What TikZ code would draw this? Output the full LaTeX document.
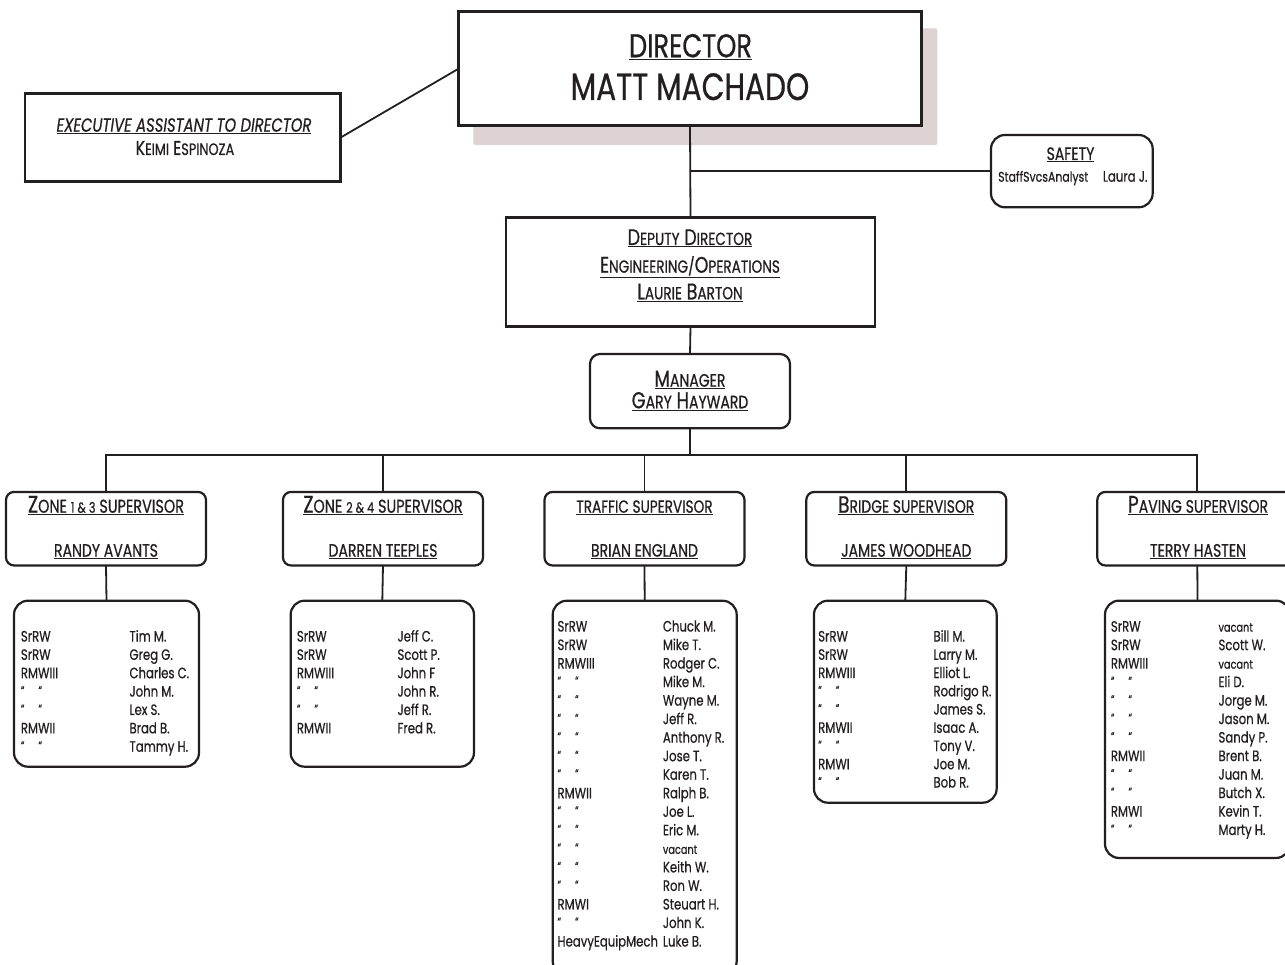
\documentclass[tikz,border=0pt]{standalone}
\usepackage{fontspec}
\setmainfont{Poppins}[FakeStretch=0.78,FakeBold=0.6]
\newcommand\fs[1]{\fontsize{#1}{#1}\selectfont}
\newcommand\sk[2]{{\fontsize{#1}{#1}\selectfont #2}}
\newcommand\dit{\raisebox{2pt}{\fs{12}“\hspace{14pt}“}}
\newcommand\vac{{\fs{12.5}vacant}}
\definecolor{ink}{HTML}{231F20}
\definecolor{shade}{HTML}{DDD3D3}
\begin{document}
\begin{tikzpicture}[x=1pt,y=-1pt,
  box/.style={draw=ink, line width=2.2pt, fill=white, inner sep=0pt, outer sep=0pt},
  rbox/.style={box, rounded corners=10pt},
  lbox/.style={box, rounded corners=14pt},
  txt/.style={anchor=base, inner sep=0pt, text=ink},
  item/.style={anchor=base west, inner sep=0pt, text=ink, font=\fs{15}},
  wire/.style={draw=ink, line width=1.8pt}]
\useasboundingbox (0,0) rectangle (1285,965);
\clip (0,0) rectangle (1285,965);
\fill[white] (0,0) rectangle (1285,965);

% ---- top level boxes
\node[fill=shade, inner sep=0pt, rounded corners=2pt, minimum width=464pt, minimum height=116.7pt] (dirsh) at (705.3,86.7) {};
\node[box, line width=3pt, minimum width=463.4pt, minimum height=114.3pt] (dir) at (690,68.85) {};
\node[box, line width=2.6pt, minimum width=315.7pt, minimum height=88.4pt] (ea) at (182.85,137.5) {};
\node[lbox, minimum width=161.7pt, minimum height=72.3pt] (saf) at (1071.85,171.15) {};
\node[box, line width=2.6pt, minimum width=369pt, minimum height=109.4pt] (dep) at (690.5,272) {};
\node[rbox, minimum width=200pt, minimum height=74.3pt] (mgr) at (690,391.15) {};

% ---- supervisor boxes
\foreach \k/\cx in {1/106, 2/383, 3/644.5, 4/906.3, 5/1197.3}{
  \node[box, rounded corners=8pt, minimum width=200pt, minimum height=73.5pt] (s\k) at (\cx,528.7) {};
}
% ---- staff boxes
\node[lbox, minimum width=185pt, minimum height=166pt] (l1) at (106.5,683.7) {};
\node[lbox, minimum width=183.3pt, minimum height=166pt] (l2) at (382.3,683.7) {};
\node[lbox, minimum width=184pt, minimum height=374.3pt] (l3) at (644.7,787.9) {};
\node[lbox, minimum width=182.7pt, minimum height=202pt] (l4) at (905.3,701.7) {};
\node[lbox, minimum width=185pt, minimum height=257.3pt] (l5) at (1197.5,729.3) {};

% ---- connectors
\coordinate (bus) at (690,455);
\draw[wire] (ea.east) -- (dir.west);
\draw[wire] (dir.south) -- (dep.north);
\draw[wire] (saf.west) -- (saf.west -| dir.south);
\draw[wire] (dep.south) -- (mgr.north);
\draw[wire] (mgr.south) -- (bus);
\draw[wire] (s1.north) -- (s1.north |- bus) -- (s5.north |- bus) -- (s5.north);
\foreach \k in {2,3,4}{\draw[wire] (s\k.north) -- (s\k.north |- bus);}
\foreach \k in {1,...,5}{\draw[wire] (s\k.south) -- (l\k.north);}

% ---- texts
\node[txt, font=\fs{33}] (dirt) at (690.5,57.3) {\underline{DIRECTOR}};
\node[txt, font=\fs{38}] (dirn) at (690,100) {MATT MACHADO};
\node[txt, font=\itshape\fs{19}] (eat) at (184,131.7) {\underline{EXECUTIVE ASSISTANT TO DIRECTOR}};
\node[txt, font=\fs{20}] (ean) at (185,155) {K\sk{16.5}{EIMI} E\sk{16.5}{SPINOZA}};
\node[txt, font=\fs{18}] (saft) at (1070.5,160) {\underline{SAFETY}};
\node[item, font=\fs{14}] (safr) at (998,181.7) {StaffSvcsAnalyst};
\node[item] (safn) at (1102.7,181.7) {Laura J.};
\node[txt, font=\fs{22.5}] (dep1) at (690,245) {\underline{D\sk{17.5}{EPUTY} D\sk{17.5}{IRECTOR}}};
\node[txt, font=\fs{22.5}] (dep2) at (690,272.7) {\underline{E\sk{17.5}{NGINEERING/}O\sk{17.5}{PERATIONS}}};
\node[txt, font=\fs{22.5}] (dep3) at (690,299.3) {\underline{L\sk{17.5}{AURIE} B\sk{17.5}{ARTON}}};
\node[txt, font=\fs{23}] (mgr1) at (690,386.7) {\underline{M\sk{18}{ANAGER}}};
\node[txt, font=\fs{23}] (mgr2) at (690,408.3) {\underline{G\sk{18}{ARY} H\sk{18}{AYWARD}}};

\node[txt, font=\fs{24}] (s1t) at (106,512.7) {\underline{Z\sk{18.5}{ONE }\sk{14.5}{1 \& 3}\sk{18.5}{ SUPERVISOR}}};
\node[txt, font=\fs{18}] (s1n) at (106,556.7) {\underline{RANDY AVANTS}};
\node[txt, font=\fs{24}] (s2t) at (383,512.7) {\underline{Z\sk{18.5}{ONE }\sk{14.5}{2 \& 4}\sk{18.5}{ SUPERVISOR}}};
\node[txt, font=\fs{18}] (s2n) at (383,556.7) {\underline{DARREN TEEPLES}};
\node[txt, font=\fs{17.5}] (s3t) at (644.5,512.7) {\underline{TRAFFIC SUPERVISOR}};
\node[txt, font=\fs{18}] (s3n) at (644.5,556.7) {\underline{BRIAN ENGLAND}};
\node[txt, font=\fs{23.5}] (s4t) at (906.3,512.7) {\underline{B\sk{17.8}{RIDGE SUPERVISOR}}};
\node[txt, font=\fs{18}] (s4n) at (906.3,556.7) {\underline{JAMES WOODHEAD}};
\node[txt, font=\fs{24}] (s5t) at (1198,512.7) {\underline{P\sk{18}{AVING SUPERVISOR}}};
\node[txt, font=\fs{18}] (s5n) at (1198,556.7) {\underline{TERRY HASTEN}};

% ---- staff lists
\foreach \r/\n [count=\i from 0] in {SrRW/Tim M., SrRW/Greg G., RMWIII/Charles C., \dit/John M., \dit/Lex S., RMWII/Brad B., \dit/Tammy H.}{
  \node[item] (a\i) at (20.7,{641.5+\i*18.37}) {\r};
  \node[item] (an\i) at (129.3,{641.5+\i*18.37}) {\n};
}
\foreach \r/\n [count=\i from 0] in {SrRW/Jeff C., SrRW/Scott P., RMWIII/John F, \dit/John R., \dit/Jeff R., RMWII/Fred R.}{
  \node[item] (b\i) at (296.7,{641.5+\i*18.37}) {\r};
  \node[item] (bn\i) at (397.3,{641.5+\i*18.37}) {\n};
}
\foreach \r/\n [count=\i from 0] in {SrRW/Chuck M., SrRW/Mike T., RMWIII/Rodger C., \dit/Mike M., \dit/Wayne M., \dit/Jeff R., \dit/Anthony R., \dit/Jose T., \dit/Karen T., RMWII/Ralph B., \dit/Joe L., \dit/Eric M., \dit/\vac, \dit/Keith W., \dit/Ron W., RMWI/Steuart H., \dit/John K., HeavyEquipMech/Luke B.}{
  \node[item] (c\i) at (557.3,{631.5+\i*18.53}) {\r};
  \node[item] (cn\i) at (662.7,{631.5+\i*18.53}) {\n};
}
\foreach \r/\n [count=\i from 0] in {SrRW/Bill M., SrRW/Larry M., RMWIII/Elliot L., \dit/Rodrigo R., \dit/James S., RMWII/Isaac A., \dit/Tony V., RMWI/Joe M., \dit/Bob R.}{
  \node[item] (d\i) at (818,{641.5+\i*18.25}) {\r};
  \node[item] (dn\i) at (933.3,{641.5+\i*18.25}) {\n};
}
\foreach \r/\n [count=\i from 0] in {SrRW/\vac, SrRW/Scott W., RMWIII/\vac, \dit/Eli D., \dit/Jorge M., \dit/Jason M., \dit/Sandy P., RMWII/Brent B., \dit/Juan M., \dit/Butch X., RMWI/Kevin T., \dit/Marty H.}{
  \node[item] (e\i) at (1110.7,{631.7+\i*18.48}) {\r};
  \node[item] (en\i) at (1218.3,{631.7+\i*18.48}) {\n};
}
\end{tikzpicture}
\end{document}
